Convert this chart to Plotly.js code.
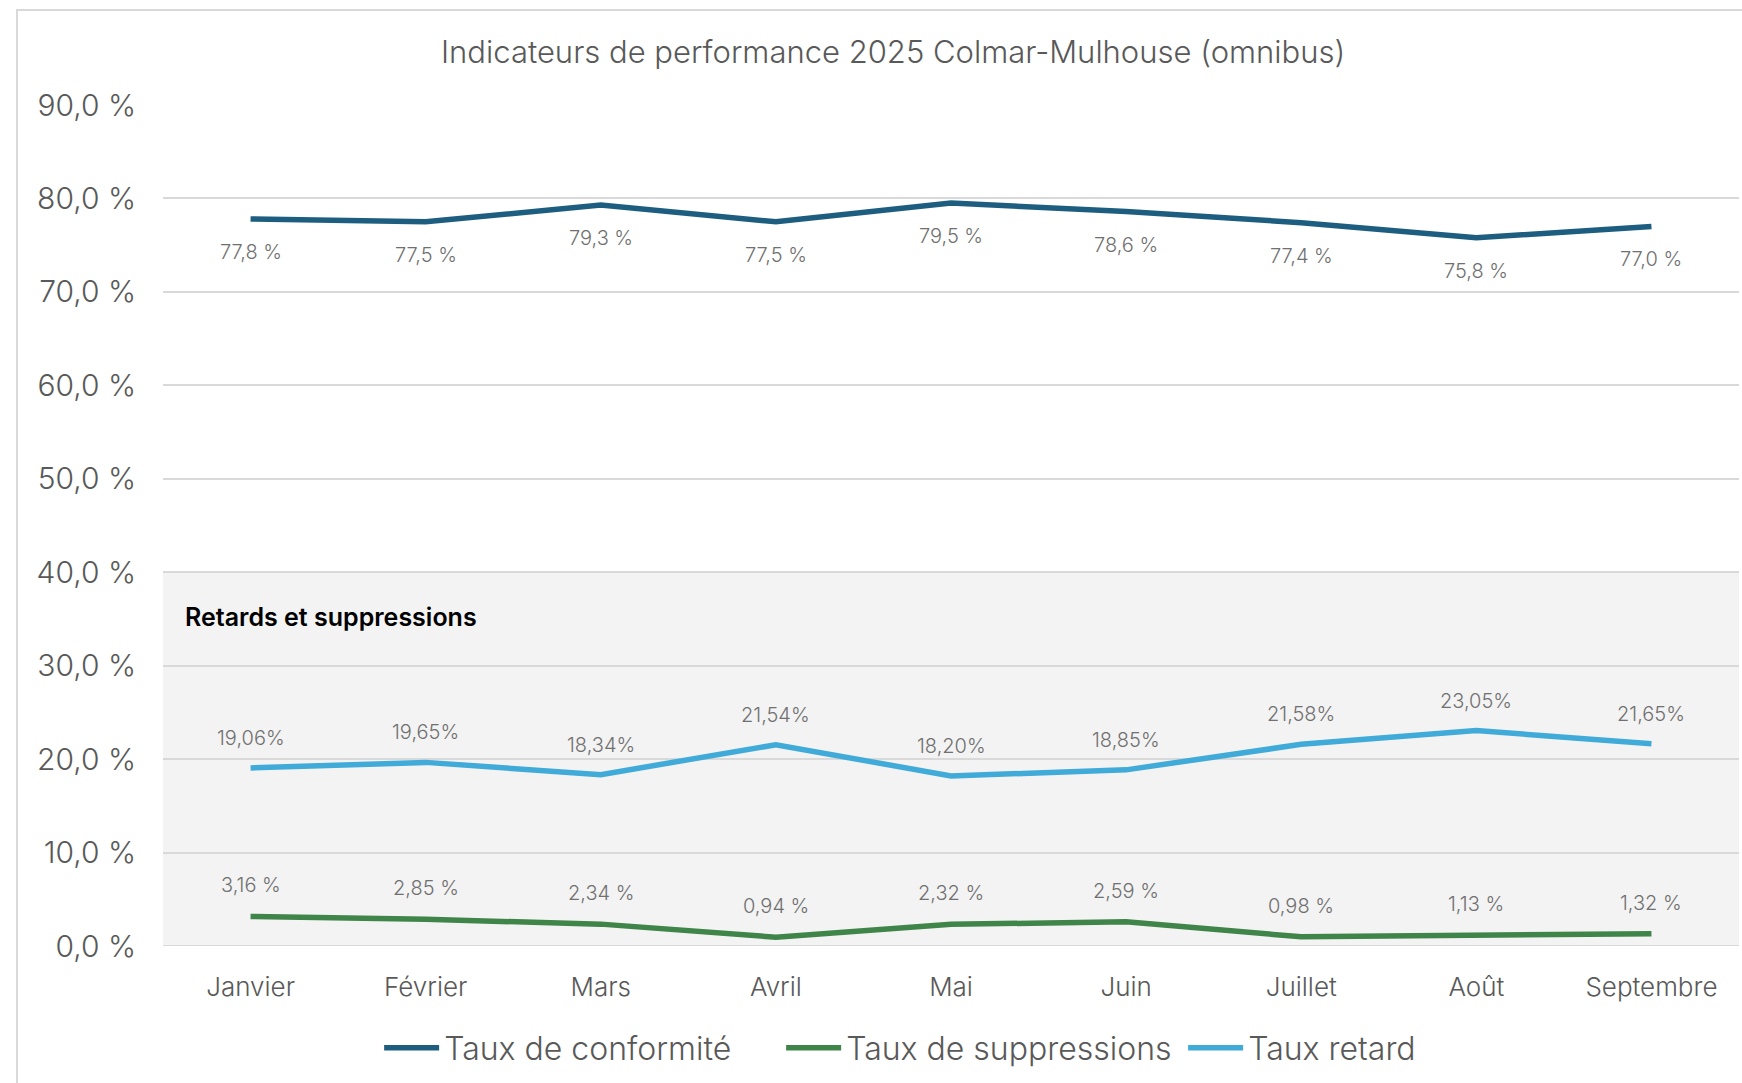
<!DOCTYPE html>
<html>
<head>
<meta charset="utf-8">
<script src="https://cdn.plot.ly/plotly-3.0.1.min.js"></script>
<style>
html,body{margin:0;padding:0;background:#fff;}
#chart{width:1742px;height:1083px;}
</style>
</head>
<body>
<div id="chart"></div>
<script>
const months = ["Janvier","Février","Mars","Avril","Mai","Juin","Juillet","Août","Septembre"];
const tauxConformite = [77.8, 77.5, 79.3, 77.5, 79.5, 78.6, 77.4, 75.8, 77.0];
const tauxSuppressions = [3.16, 2.85, 2.34, 0.94, 2.32, 2.59, 0.98, 1.13, 1.32];
const tauxRetard = [19.06, 19.65, 18.34, 21.54, 18.20, 18.85, 21.58, 23.05, 21.65];
const yTicks = [0,10,20,30,40,50,60,70,80,90];

const FONT = "Inter, 'Open Sans', sans-serif";
const fmt = (v, d, sep) => v.toFixed(d).replace('.', ',') + sep + '%';

const cConf = '#1d5e80', cSupp = '#3f8448', cRet = '#40aad9';

const traces = [
  {x: months, y: tauxConformite, name: 'Taux de conformité', type: 'scatter', mode: 'lines',
   line: {color: cConf, width: 5.5}},
  {x: months, y: tauxSuppressions, name: 'Taux de suppressions', type: 'scatter', mode: 'lines',
   line: {color: cSupp, width: 5.5}},
  {x: months, y: tauxRetard, name: 'Taux retard', type: 'scatter', mode: 'lines',
   line: {color: cRet, width: 5.5}}
];

const labelFont = {family: FONT, size: 20, color: '#707070', weight: 300};
const annotations = [];
months.forEach((m, i) => {
  annotations.push({x: m, y: tauxConformite[i], xref: 'x', yref: 'y', text: fmt(tauxConformite[i], 1, ' '),
    showarrow: false, yshift: -33, font: labelFont});
  annotations.push({x: m, y: tauxRetard[i], xref: 'x', yref: 'y', text: fmt(tauxRetard[i], 2, ''),
    showarrow: false, yshift: 30, font: labelFont});
  annotations.push({x: m, y: tauxSuppressions[i], xref: 'x', yref: 'y', text: fmt(tauxSuppressions[i], 2, ' '),
    showarrow: false, yshift: 31, font: labelFont});
});
annotations.push({x: 0.0127, xref: 'paper', xanchor: 'left', y: 35.2, yref: 'y', yanchor: 'middle',
  text: 'Retards et suppressions', showarrow: false, font: {family: FONT, size: 25, color: '#000', weight: 600}});

const layout = {
  width: 1742, height: 1083,
  paper_bgcolor: '#fff', plot_bgcolor: 'rgba(0,0,0,0)',
  margin: {l: 163, r: 3, t: 105, b: 137},
  font: {family: FONT, color: '#595959', weight: 300},
  title: {text: 'Indicateurs de performance 2025 Colmar-Mulhouse (omnibus)',
    x: 0.5127, xref: 'container', xanchor: 'center', y: 1 - 52/1083, yref: 'container', yanchor: 'middle',
    font: {family: FONT, size: 31, color: '#595959', weight: 300}},
  xaxis: {type: 'category', range: [-0.5, 8.5], showgrid: false, zeroline: false,
    showline: false, ticks: 'outside', ticklen: 18, tickcolor: 'rgba(0,0,0,0)',
    tickfont: {family: FONT, size: 26, color: '#595959', weight: 300}, fixedrange: true},
  yaxis: {range: [0, 90], tickmode: 'array', tickvals: yTicks,
    ticktext: yTicks.map(v => v.toFixed(1).replace('.', ',') + ' %'),
    showgrid: true, gridcolor: '#d9d9d9', gridwidth: 2, zeroline: false, showline: false,
    ticks: 'outside', ticklen: 20, tickcolor: 'rgba(0,0,0,0)',
    tickfont: {family: FONT, size: 30, color: '#595959', weight: 300}, fixedrange: true},
  showlegend: true,
  legend: {orientation: 'h', xref: 'container', yref: 'container', x: 0.5638, xanchor: 'center',
    y: 1 - 1048/1083, yanchor: 'middle', font: {family: FONT, size: 32, color: '#595959', weight: 300},
    itemwidth: 55, entrywidth: 332, entrywidthmode: 'pixels', traceorder: 'normal'},
  shapes: [
    {type: 'rect', xref: 'paper', yref: 'y', x0: 0, x1: 1, y0: 0, y1: 40,
     fillcolor: '#f3f3f3', line: {width: 0}, layer: 'below'},
    {type: 'line', xref: 'paper', yref: 'y', x0: 0, x1: 1, y0: 0, y1: 0,
     line: {color: '#d9d9d9', width: 2}, layer: 'below'},
    {type: 'rect', xref: 'paper', yref: 'paper', x0: -146/1576, x1: 1.01, y0: -0.3, y1: (946 - 10)/841,
     fillcolor: 'rgba(0,0,0,0)', line: {color: '#d9d9d9', width: 2}, layer: 'below'}
  ],
  annotations: annotations
};

Plotly.newPlot('chart', traces, layout, {displayModeBar: false, staticPlot: true});
</script>
</body>
</html>
